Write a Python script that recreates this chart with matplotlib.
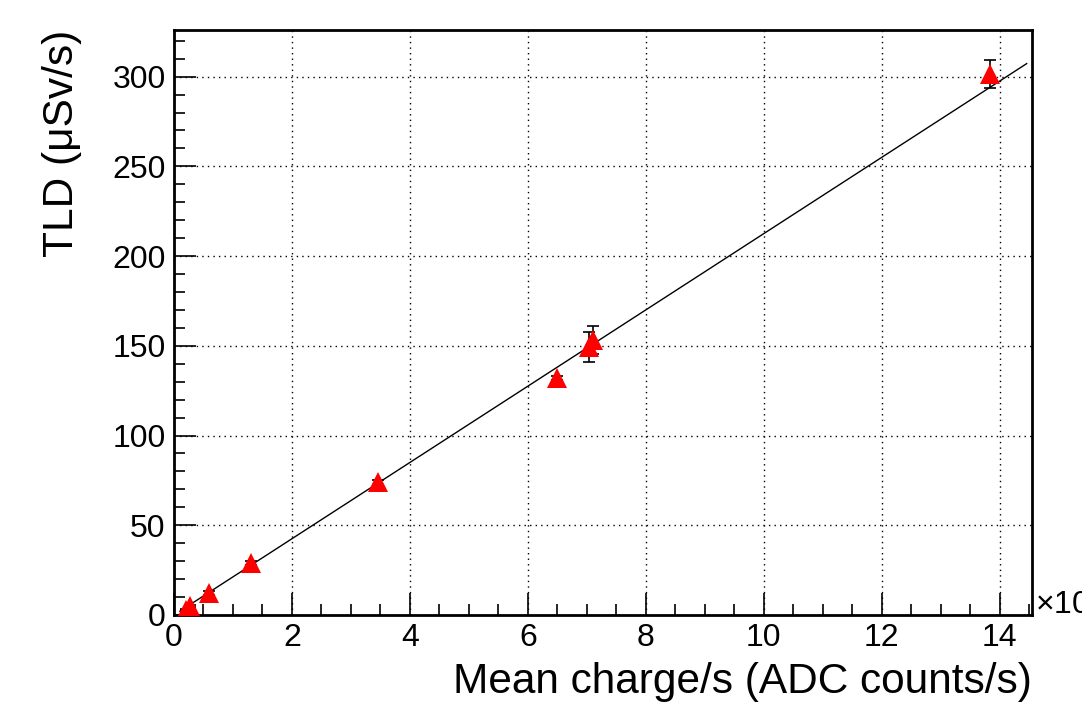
import numpy as np
import matplotlib
matplotlib.use("Agg")
import matplotlib.pyplot as plt
from matplotlib.ticker import MultipleLocator

# Data (x in units of 10^6 ADC counts/s)
charge = [0.20, 0.27, 0.59, 1.30, 3.46, 6.49, 7.03, 7.10, 13.83]
tld = [3.0, 5.0, 12.3, 29.0, 74.0, 132.0, 149.5, 153.0, 301.5]
tld_err = [0.3, 0.4, 1.0, 1.2, 1.5, 1.0, 8.4, 7.8, 8.0]

# linear fit line
fit_slope = 21.25
fit_intercept = 0.0
fit_range = [0.1, 14.46]

plt.rcParams['font.family'] = ['Liberation Sans', 'DejaVu Sans']

fig = plt.figure(figsize=(10.82, 7.10), dpi=100)
ax = fig.add_axes([174/1082, 1 - 615/710, (1032-174)/1082, (615-30)/710])

xf = np.linspace(fit_range[0], fit_range[1], 200)
ax.plot(xf, fit_slope*xf + fit_intercept, color='black', lw=1.0, zorder=2)

ax.errorbar(charge, tld, yerr=tld_err, fmt='none', ecolor='black',
            elinewidth=1.2, capsize=4, capthick=1.2, zorder=3)
ax.plot(charge, tld, '^', color='red', markersize=14, markeredgewidth=0, zorder=4)

ax.set_xlim(0, 14.55)
ax.set_ylim(0, 326)

ax.xaxis.set_major_locator(MultipleLocator(2))
ax.xaxis.set_minor_locator(MultipleLocator(0.5))
ax.yaxis.set_major_locator(MultipleLocator(50))
ax.yaxis.set_minor_locator(MultipleLocator(10))

ax.grid(True, which='major', color='black', linestyle=(0, (1, 3)), linewidth=1.0)
ax.tick_params(which='both', direction='in', top=False, right=False,
               labelsize=23, width=1.2, pad=6)
ax.tick_params(which='major', length=16)
ax.tick_params(which='minor', length=8)
for s in ax.spines.values():
    s.set_linewidth(2)

ax.set_xlabel('Mean charge/s (ADC counts/s)', fontsize=30.5, loc='right', labelpad=6)
ax.set_ylabel('TLD (μSv/s)', fontsize=30.5, loc='top', labelpad=22)

# axis multiplier, clipped by the right edge as in the original
ax.text(1.004, 0.018, '×10$^{6}$', transform=ax.transAxes, fontsize=23,
        ha='left', va='center')

fig.savefig('out.png', dpi=100)
